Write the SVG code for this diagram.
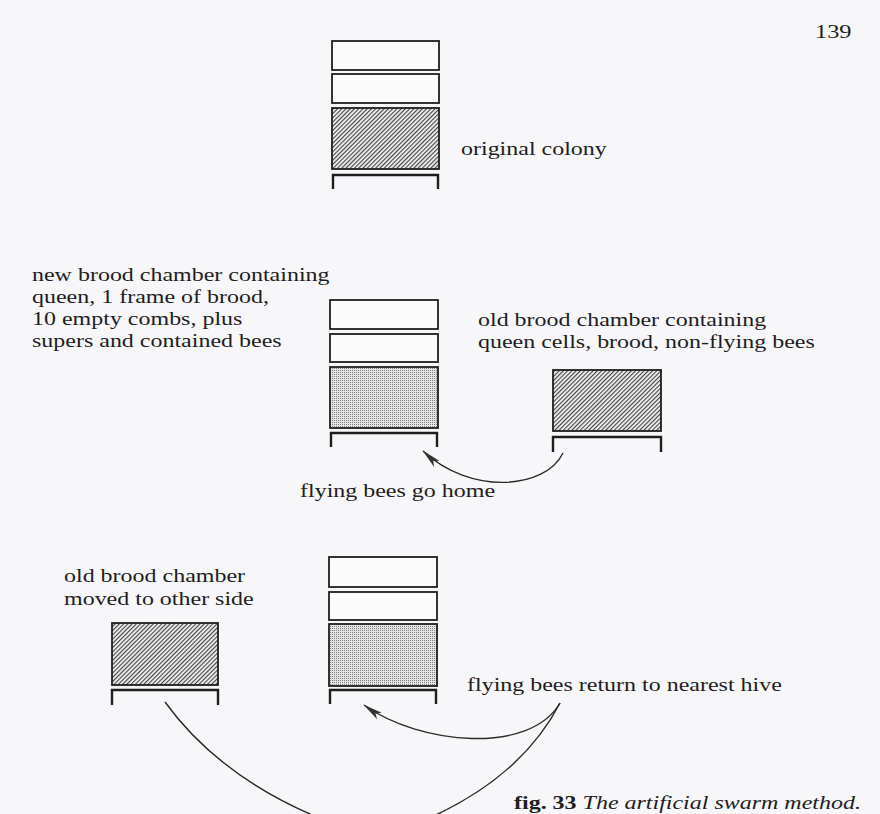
<svg xmlns="http://www.w3.org/2000/svg" width="880" height="814" viewBox="0 0 880 814">
<style>
.t{font-family:"Liberation Serif","Times New Roman",serif;font-size:19.5px;fill:#1e1e1e}
.box{fill:#fbfbfc;stroke:#1e1e1e;stroke-width:1.8}
.hat{fill:url(#hatch);stroke:#1e1e1e;stroke-width:1.8}
.stp{fill:url(#stip);stroke:#1e1e1e;stroke-width:1.8}
.stand{fill:none;stroke:#1e1e1e;stroke-width:2.4}
.arc{fill:none;stroke:#2a2a2a;stroke-width:1.4}
</style>
<defs>
<pattern id="hatch" width="3" height="3" patternUnits="userSpaceOnUse" patternTransform="rotate(45)">
<rect width="3" height="3" fill="#f4f4f4"/>
<line x1="0.6" y1="0" x2="0.6" y2="3" stroke="#3a3a3a" stroke-width="1.1"/>
</pattern>
<pattern id="stip" width="2" height="2" patternUnits="userSpaceOnUse">
<rect width="2" height="2" fill="#e4e4e4"/>
<rect x="0" y="0" width="1" height="1" fill="#808080"/>
</pattern>
<marker id="ah" viewBox="0 0 20 10" refX="19" refY="5" markerWidth="20" markerHeight="10" markerUnits="userSpaceOnUse" orient="auto">
<path d="M0,1 L20,5 L0,9 L5,5 Z" fill="#333"/>
</marker>
</defs>
<rect width="880" height="814" fill="#f7f6f9"/>
<text class="t" transform="translate(815,38) scale(1.25,1)">139</text>

<g id="hive-original">
<rect class="box" x="332" y="41" width="107" height="29"/>
<rect class="box" x="332" y="74" width="107" height="29"/>
<rect class="hat" x="332" y="108" width="107" height="61"/>
<path class="stand" d="M333,189 V175 H438 V189"/>
</g>
<g id="label-original"><text class="t" transform="translate(461,155) scale(1.23,1)">original colony</text></g>

<g id="label-new">
<text class="t" transform="translate(32,281) scale(1.23,1)">new brood chamber containing</text>
<text class="t" transform="translate(32,303) scale(1.23,1)">queen, 1 frame of brood,</text>
<text class="t" transform="translate(32,325) scale(1.23,1)">10 empty combs, plus</text>
<text class="t" transform="translate(32,347) scale(1.23,1)">supers and contained bees</text>
</g>
<g id="hive-new">
<rect class="box" x="330" y="300" width="108" height="29"/>
<rect class="box" x="330" y="334" width="108" height="28"/>
<rect class="stp" x="330" y="367" width="108" height="61"/>
<path class="stand" d="M331,447 V433 H437 V447"/>
</g>
<g id="label-old">
<text class="t" transform="translate(478,326) scale(1.23,1)">old brood chamber containing</text>
<text class="t" transform="translate(478,348) scale(1.23,1)">queen cells, brood, non-flying bees</text>
</g>
<g id="hive-old">
<rect class="hat" x="553" y="370" width="108" height="61"/>
<path class="stand" d="M553,452 V437 H661 V452"/>
</g>
<g id="label-home"><text class="t" transform="translate(300,497) scale(1.23,1)">flying bees go home</text></g>

<g id="label-moved">
<text class="t" transform="translate(64,582) scale(1.23,1)">old brood chamber</text>
<text class="t" transform="translate(64,605) scale(1.23,1)">moved to other side</text>
</g>
<g id="hive-moved">
<rect class="hat" x="112" y="623" width="106" height="62"/>
<path class="stand" d="M112,705 V690 H218 V705"/>
</g>
<g id="hive-final">
<rect class="box" x="329" y="557" width="108" height="30"/>
<rect class="box" x="329" y="592" width="108" height="28"/>
<rect class="stp" x="329" y="624" width="108" height="62"/>
<path class="stand" d="M330,704 V690 H436 V704"/>
</g>
<g id="label-return"><text class="t" transform="translate(467,691) scale(1.23,1)">flying bees return to nearest hive</text></g>

<g id="connectors">
<path class="arc" d="M563,453 C545,490 470,495 423,451" marker-end="url(#ah)"/>
<path class="arc" d="M560,703 C530,755 420,745 364,705" marker-end="url(#ah)"/>
<path class="arc" d="M165,702 Q225,785 345,828"/>
<path class="arc" d="M560,703 Q520,780 420,822"/>
</g>

<g id="caption"><text class="t" transform="translate(514,809) scale(1.23,1)"><tspan font-weight="bold">fig. 33</tspan> <tspan font-style="italic">The artificial swarm method.</tspan></text></g>
</svg>
